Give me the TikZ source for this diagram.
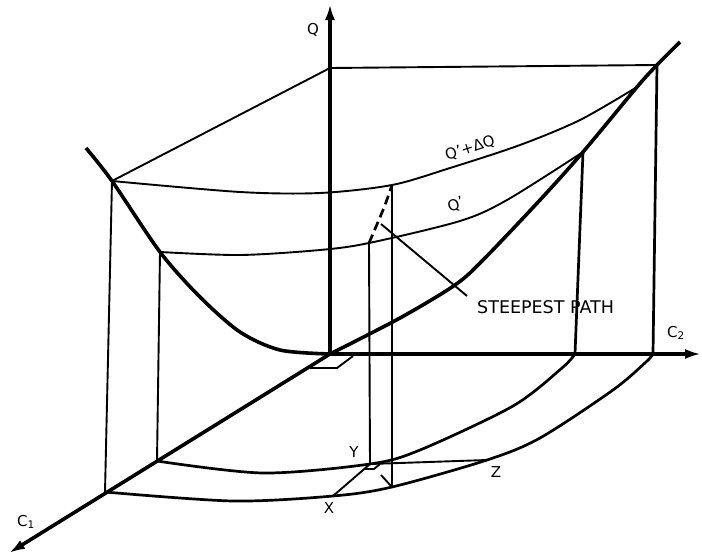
\documentclass[tikz,border=0pt]{standalone}
\usepackage{fontspec}
\setsansfont{DejaVu Sans}
\usetikzlibrary{arrows.meta}

\begin{document}
\begin{tikzpicture}[x=1pt,y=-1pt,
		thinline/.style={line width=1.9pt},
		midline/.style={line width=2.7pt},
		heavy/.style={line width=3.6pt},
		axistip/.style={-{Latex[length=16pt,width=10pt]}},
		lbl/.style={font=\sffamily\fontsize{15}{17}\selectfont, inner sep=0pt}]
		\useasboundingbox (0,0) rectangle (702,557);

		% axes and box corners
		\coordinate (o) at (330,354);
		\coordinate (qtop) at (330,4);
		\coordinate (c2end) at (701,354);
		\coordinate (c1end) at (9,553);
		\coordinate (t1) at (112,181);
		\coordinate (t2) at (160,252);
		\coordinate (tq) at (330,68);
		\coordinate (tr) at (657,65);
		\coordinate (r1) at (637,87);
		\coordinate (r2) at (583,152);
		\coordinate (a1) at (105,492);
		\coordinate (a2) at (157,461);
		\coordinate (b1) at (653,354);
		\coordinate (b2) at (575,354);

		% steepest path points
		\coordinate (v1t) at (369,243);
		\coordinate (v2t) at (392,185);
		\coordinate (y) at (370,464);
		\coordinate (x) at (333,496);
		\coordinate (z) at (487,460);
		\coordinate (v2b) at (392,487);
		\coordinate (hit) at (381,224);
		\coordinate (lead) at (467,296);

		% top of the box
		\draw[thinline] (t1) -- (tq) -- (tr);

		% contours Q' and Q'+dQ
		\draw[thinline] plot[smooth] coordinates {(t1) (240,192) (320,193) (v2t) (450,168) (520,145) (580,120) (r1)};
		\draw[thinline] plot[smooth] coordinates {(t2) (240,255) (320,250) (v1t) (460,221) (507,200) (r2)};

		% verticals
		\draw[thinline] (t1) -- (a1);
		\draw[thinline] (t2) -- (a2);
		\draw[thinline] (v1t) -- (y);
		\draw[thinline] (v2t) -- (v2b);
		\draw[midline] (r2) -- (b2);
		\draw[midline] (tr) -- (b1);

		% projections on the c1-c2 plane
		\draw[midline] plot[smooth] coordinates {(a2) (263,473) (y) (420,450) (513,406) (562,368) (b2)};
		\draw[midline] plot[smooth] coordinates {(a1) (233,501) (x) (v2b) (z) (540,438) (613,390) (646,362) (b1)};

		\draw[thinline] (x) -- (y) -- (z);
		\draw[thinline] (y) ++(10,0) -- ++(-6,5) -- ++(-10,0);
		\draw[thinline] (381,475) -- (v2b);
		\draw[thinline] (353,356) -- (337,368) -- (310,368);

		% steepest path
		\draw[midline, dash pattern=on 9pt off 5pt] plot[smooth] coordinates {(v1t) (378,222) (385,205) (v2t)};
		\draw[thinline] (lead) -- (hit);

		% response curve
		\draw[heavy] plot[smooth] coordinates {(86,148) (t1) (t2) (200,297) (240,332) (280,350) (o)};
		\draw[heavy] plot[smooth] coordinates {(o) (400,318) (455,285) (483,260) (540,200) (r2) (r1) (tr) (680,42)};

		% axes
		\draw[line width=4.5pt, axistip] (o) -- (qtop);
		\draw[heavy, axistip] (o) -- (c2end);
		\draw[heavy, axistip] (o) -- (c1end);

		\node[lbl] (qlab) at (313,30) {Q};
		\node[lbl] (c1lab) at (26,522) {C\textsubscript{1}};
		\node[lbl] (c2lab) at (676,333) {C\textsubscript{2}};
		\node[lbl, rotate=18] (dqlab) at (470,148) {Q’+ΔQ};
		\node[lbl, rotate=22] (qplab) at (456,205) {Q’};
		\node[lbl, font=\sffamily\fontsize{17.5}{19}\selectfont, anchor=west] (steep) at (477,307) {STEEPEST PATH};
		\node[lbl] (ylab) at (354,452) {Y};
		\node[lbl] (xlab) at (329,508) {X};
		\node[lbl] (zlab) at (496,472) {Z};

	\end{tikzpicture}
\end{document}
